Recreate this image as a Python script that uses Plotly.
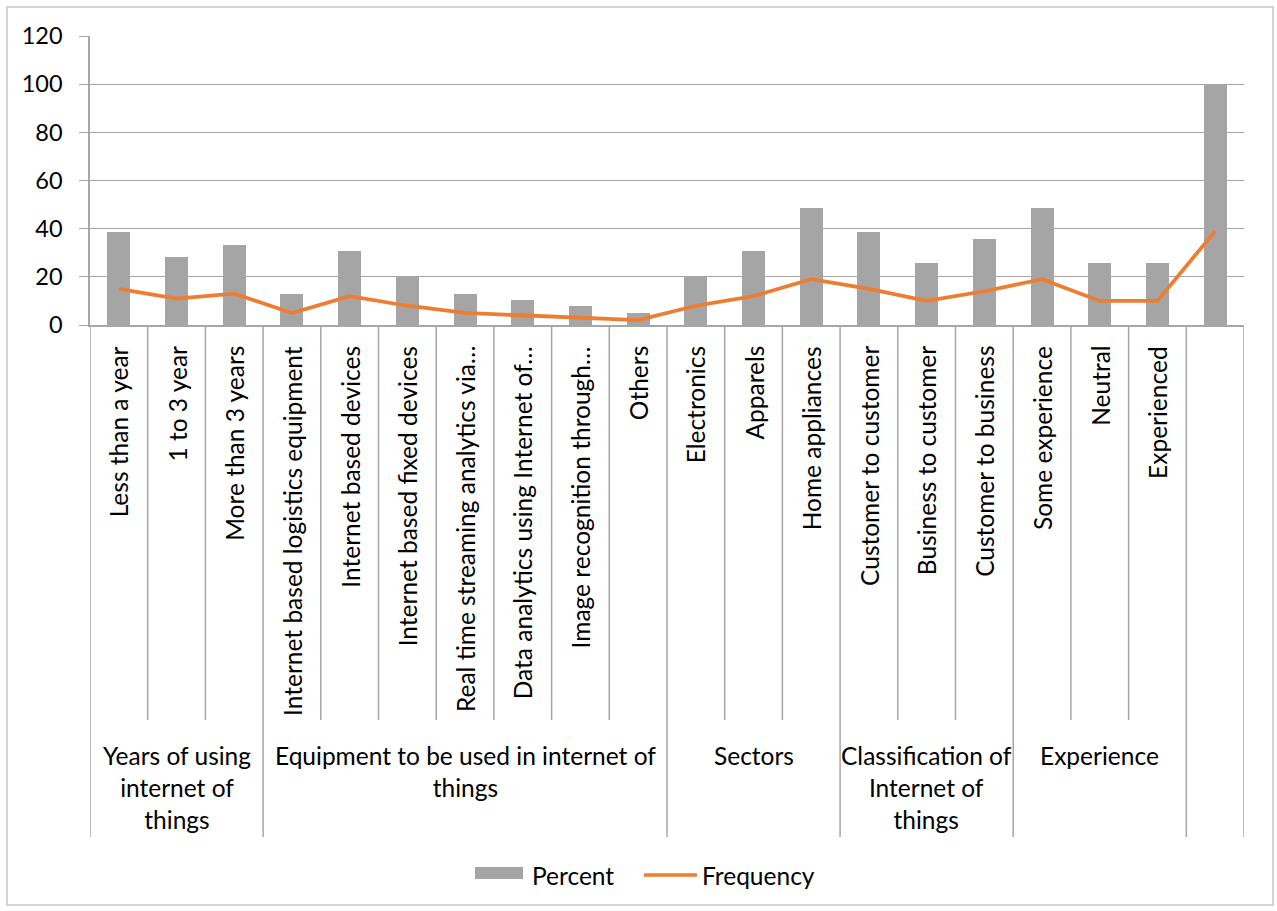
import plotly.graph_objects as go

# Survey responses: category labels, their group, percent and frequency
categories = [
    "Less than a year", "1 to 3 year", "More than 3 years",
    "Internet based logistics equipment", "Internet based devices",
    "Internet based fixed devices", "Real time streaming analytics via…",
    "Data analytics using Internet of…", "Image recognition through…", "Others",
    "Electronics", "Apparels", "Home appliances",
    "Customer to customer", "Business to customer", "Customer to business",
    "Some experience", "Neutral", "Experienced", "",
]
percent = [38.5, 28.2, 33.3, 12.8, 30.8, 20.5, 12.8, 10.3, 7.7, 5.1,
           20.5, 30.8, 48.7, 38.5, 25.6, 35.9, 48.7, 25.6, 25.6, 100]
frequency = [15, 11, 13, 5, 12, 8, 5, 4, 3, 2,
             8, 12, 19, 15, 10, 14, 19, 10, 10, 39]

group_labels = [
    "Years of using<br>internet of<br>things",
    "Equipment to be used in internet of<br>things",
    "Sectors",
    "Classification of<br>Internet of<br>things",
    "Experience",
    "",
]
group_sizes = [3, 7, 3, 3, 3, 1]

W, H = 1277, 911
FONT = "Lato"
TEXT = "#000000"
AXIS_GRAY = "#A6A6A6"


def px(x):
    return x / W


def py(y):
    return 1 - y / H


x_idx = list(range(len(categories)))

fig = go.Figure()
fig.add_trace(go.Bar(
    x=x_idx, y=percent, name="Percent", width=0.4,
    marker=dict(color="#A5A5A5", line=dict(width=0)), showlegend=False,
))
fig.add_trace(go.Scatter(
    x=x_idx, y=frequency, name="Frequency", mode="lines",
    line=dict(color="#ED7D31", width=3.75), showlegend=False,
))

shapes = []
annotations = []

# category dividers below the axis; group boundaries run further down
group_edges = [0]
for s in group_sizes:
    group_edges.append(group_edges[-1] + s)
for k in range(len(categories) + 1):
    bottom = 837 if k in group_edges else 720
    shapes.append(dict(type="line", xref="x", yref="paper",
                       x0=k - 0.5, x1=k - 0.5, y0=py(326), y1=py(bottom),
                       line=dict(color=AXIS_GRAY, width=1.5)))

# rotated category labels
for i, lab in enumerate(categories):
    if lab:
        annotations.append(dict(
            x=i, y=py(344), xref="x", yref="paper", text=lab, showarrow=False,
            textangle=-90, xanchor="center", yanchor="top",
            font=dict(family=FONT, size=24.5, color=TEXT),
        ))

# group labels
for g, lab in enumerate(group_labels):
    if lab:
        centre = (group_edges[g] + group_edges[g + 1] - 1) / 2
        annotations.append(dict(
            x=centre, y=py(739), xref="x", yref="paper", text=lab,
            showarrow=False, xanchor="center", yanchor="top", align="center",
            font=dict(family=FONT, size=24.5, color=TEXT),
        ))

# legend
shapes.append(dict(type="rect", xref="paper", yref="paper",
                   x0=px(475), x1=px(523), y0=py(867), y1=py(879),
                   fillcolor="#A5A5A5", line=dict(width=0)))
annotations.append(dict(x=px(530), y=py(875), xref="paper", yref="paper",
                        text="Percent", showarrow=False, xanchor="left",
                        yanchor="middle",
                        font=dict(family=FONT, size=24.5, color=TEXT)))
shapes.append(dict(type="line", xref="paper", yref="paper",
                   x0=px(644), x1=px(697), y0=py(875), y1=py(875),
                   line=dict(color="#ED7D31", width=3.5)))
annotations.append(dict(x=px(700), y=py(875), xref="paper", yref="paper",
                        text="Frequency", showarrow=False, xanchor="left",
                        yanchor="middle",
                        font=dict(family=FONT, size=24.5, color=TEXT)))

# chart border
shapes.append(dict(type="rect", xref="paper", yref="paper",
                   x0=px(7), x1=px(1273), y0=py(7), y1=py(905),
                   line=dict(color="#C8C8C8", width=1.5),
                   fillcolor="rgba(0,0,0,0)", layer="below"))

fig.update_layout(
    width=W, height=H,
    margin=dict(l=0, r=0, t=0, b=0, autoexpand=False),
    paper_bgcolor="white", plot_bgcolor="white",
    font=dict(family=FONT, color=TEXT),
    bargap=0, showlegend=False,
    shapes=shapes, annotations=annotations,
    xaxis=dict(
        domain=[px(90), px(1244)], range=[-0.5, len(categories) - 0.5],
        showticklabels=False, showgrid=False, zeroline=False,
        showline=True, linecolor=AXIS_GRAY, linewidth=1.5, ticks="",
        automargin=False, fixedrange=True,
    ),
    yaxis=dict(
        domain=[py(325), py(36)], range=[0, 120], dtick=20,
        showgrid=True, gridcolor=AXIS_GRAY, gridwidth=1.2,
        zeroline=False, showline=True, linecolor=AXIS_GRAY, linewidth=1.5,
        ticks="outside", ticklen=9, tickcolor=AXIS_GRAY, tickwidth=1.2,
        ticklabelstandoff=12,
        tickfont=dict(family=FONT, size=23.5, color=TEXT),
        automargin=False, fixedrange=True,
    ),
)

fig.write_html("out.html")
